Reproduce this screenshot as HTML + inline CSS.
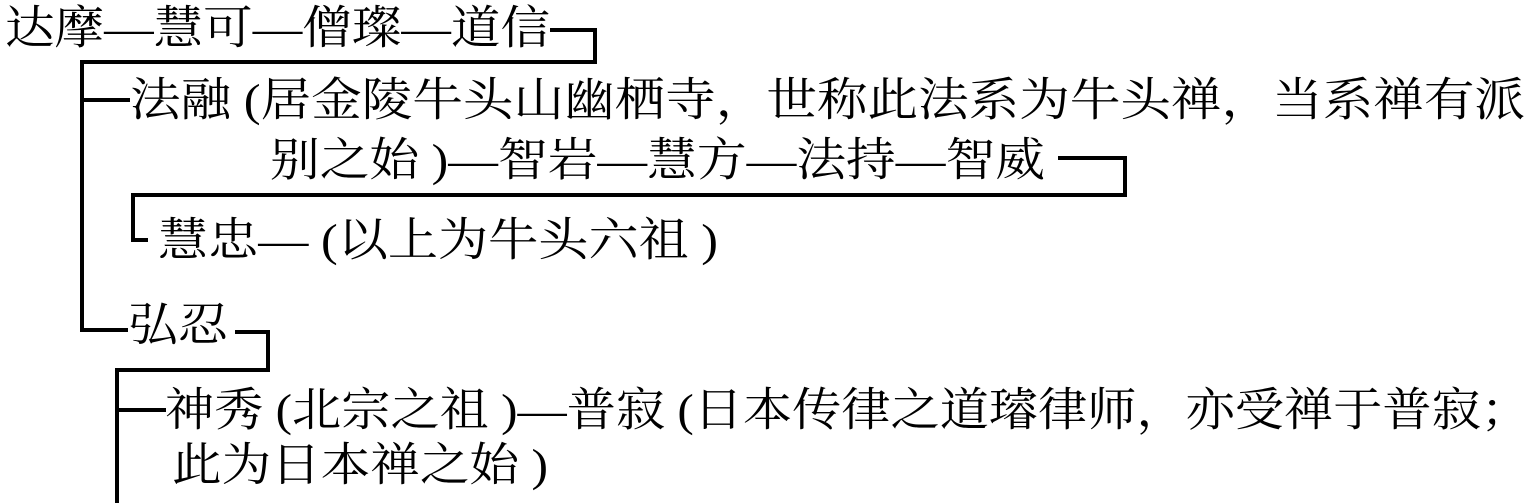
<!DOCTYPE html>
<html><head><meta charset="utf-8">
<style>
html,body{margin:0;padding:0;background:#fff;}
svg{display:block;}
text{font-family:"Liberation Serif","Noto Serif CJK SC","Noto Sans CJK SC",serif;font-size:46px;fill:#000;dominant-baseline:central;}
</style></head>
<body>
<svg width="1536" height="503" viewBox="0 0 1536 503" xmlns="http://www.w3.org/2000/svg">
<g fill="none" stroke="#000" stroke-width="4">
<polyline points="550,30 595,30 595,62 82,62 82,330 128,330"/>
<line x1="84" y1="100" x2="130" y2="100"/>
<polyline points="1058,158 1125,158 1125,195 133,195 133,240 148,240"/>
<polyline points="235,332 268,332 268,370 117,370 117,503"/>
<line x1="117" y1="410" x2="166" y2="410"/>
</g>
<text x="5" y="28" textLength="545" lengthAdjust="spacingAndGlyphs">达摩—慧可—僧璨—道信</text>
<text x="130" y="100" textLength="1395" lengthAdjust="spacingAndGlyphs">法融 (居金陵牛头山幽栖寺，世称此法系为牛头禅，当系禅有派</text>
<text x="270" y="160" textLength="775" lengthAdjust="spacingAndGlyphs">别之始 )—智岩—慧方—法持—智威</text>
<text x="158" y="240" textLength="560" lengthAdjust="spacingAndGlyphs">慧忠— (以上为牛头六祖 )</text>
<text x="128" y="325" textLength="100" lengthAdjust="spacingAndGlyphs">弘忍</text>
<text x="165" y="410" textLength="1365" lengthAdjust="spacingAndGlyphs">神秀 (北宗之祖 )—普寂 (日本传律之道璿律师，亦受禅于普寂；</text>
<text x="172" y="465" textLength="376" lengthAdjust="spacingAndGlyphs">此为日本禅之始 )</text>
</svg>
</body></html>
